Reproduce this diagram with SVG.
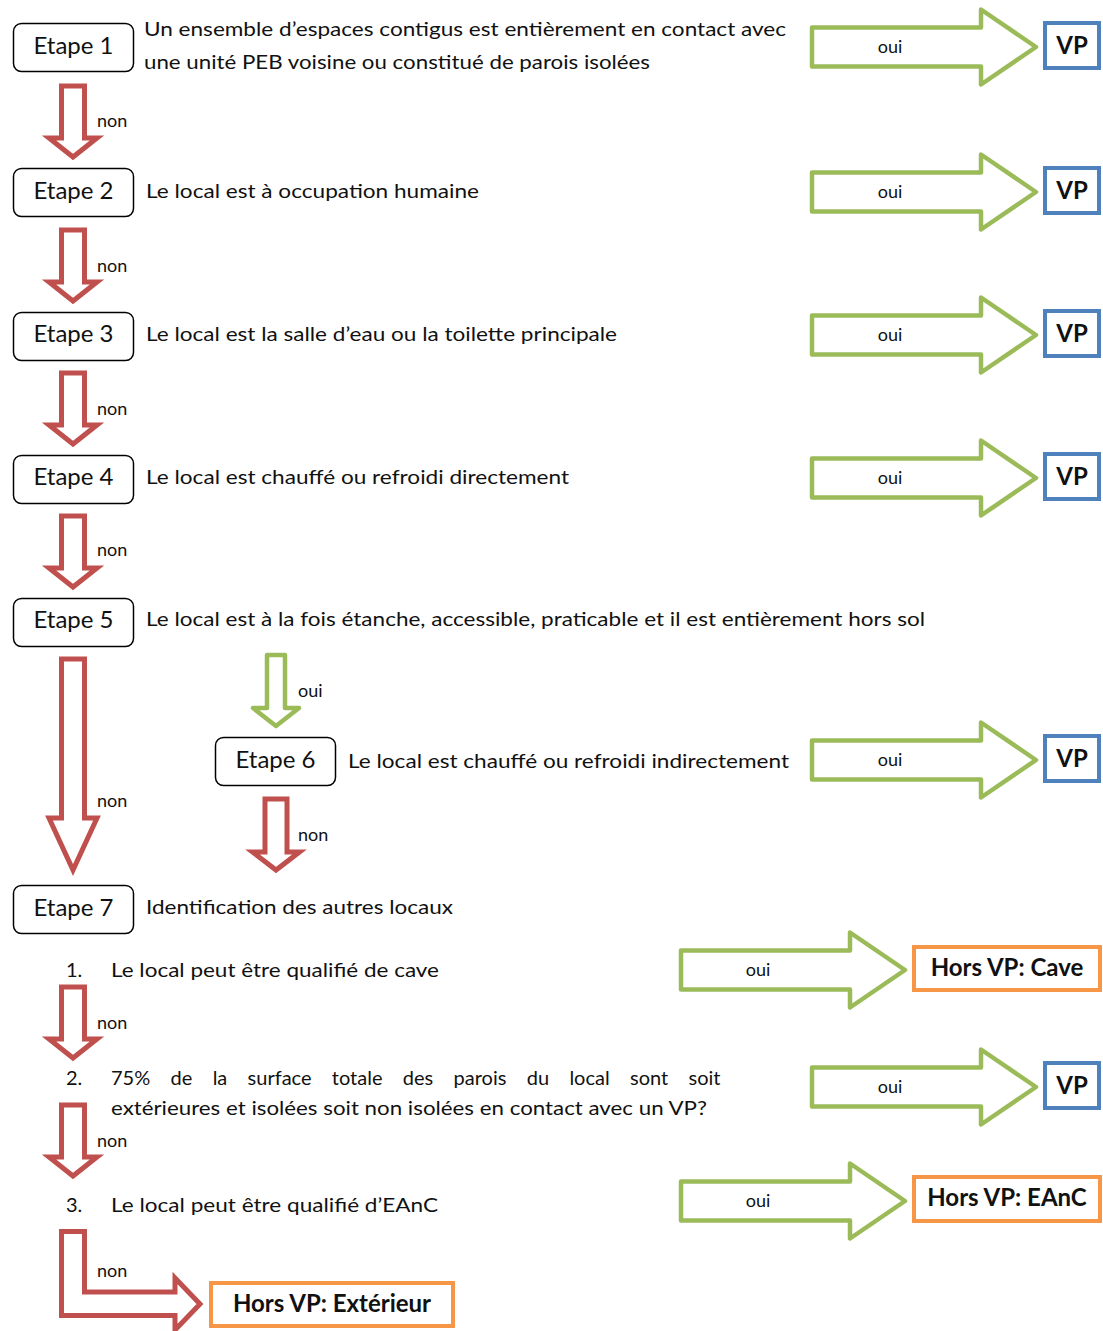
<svg xmlns="http://www.w3.org/2000/svg" xmlns:xlink="http://www.w3.org/1999/xlink" width="1103" height="1331" viewBox="0 0 1103 1331">
<style>
text{font-family:Lato,"Liberation Sans",sans-serif;fill:#111}
.step{fill:#fff;stroke:#000;stroke-width:1.5}
.stepT{font-size:24px;text-anchor:middle}
.q{font-size:20px}
.lab{font-size:18px}
.ctr{text-anchor:middle}
.vp{fill:#fff;stroke:#4F81BD;stroke-width:4}
.hors{fill:#fff;stroke:#F79646;stroke-width:4}
.res{font-size:24px;font-weight:bold;text-anchor:middle}
.red{fill:#fff;stroke:#C0504D;stroke-width:5;stroke-linejoin:miter}
.green{fill:#fff;stroke:#9BBB59;stroke-width:4.5;stroke-linejoin:round}
</style>
<defs>
<polygon id="gright" points="0,-19.5 169,-19.5 169,-37.5 224,0 169,37.5 169,19.5 0,19.5"/>
<polygon id="rdown" points="-11.5,0 11.5,0 11.5,52 24,52 0,71 -24,52 -11.5,52"/>
</defs>
<rect width="1103" height="1331" fill="#fff"/>

<g id="connectors">
<use xlink:href="#rdown" class="red" x="73" y="86"/>
<use xlink:href="#rdown" class="red" x="73" y="230"/>
<use xlink:href="#rdown" class="red" x="73" y="373"/>
<use xlink:href="#rdown" class="red" x="73" y="516"/>
<use xlink:href="#rdown" class="red" x="73" y="987"/>
<use xlink:href="#rdown" class="red" x="73" y="1105"/>
<polygon class="red" points="61.5,659 84.5,659 84.5,818 97,818 73,870 49,818 61.5,818"/>
<polygon class="green" points="267,655 285,655 285,708 299,708 276,726 253,708 267,708"/>
<polygon class="red" points="265,799 287,799 287,852 299.5,852 276,870 252.5,852 265,852"/>
<polygon class="red" points="61.5,1231.5 84.5,1231.5 84.5,1292 175,1292 175,1278 200,1304 175,1330 175,1315.5 61.5,1315.5"/>
<use xlink:href="#gright" class="green" x="812" y="47"/>
<use xlink:href="#gright" class="green" x="812" y="192"/>
<use xlink:href="#gright" class="green" x="812" y="335"/>
<use xlink:href="#gright" class="green" x="812" y="478"/>
<use xlink:href="#gright" class="green" x="812" y="760"/>
<use xlink:href="#gright" class="green" x="812" y="1087"/>
<use xlink:href="#gright" class="green" x="681" y="970"/>
<use xlink:href="#gright" class="green" x="681" y="1201"/>
<text class="lab" x="97" y="127">non</text>
<text class="lab" x="97" y="272">non</text>
<text class="lab" x="97" y="415">non</text>
<text class="lab" x="97" y="556">non</text>
<text class="lab" x="97" y="807">non</text>
<text class="lab" x="298" y="697">oui</text>
<text class="lab" x="298" y="841">non</text>
<text class="lab" x="97" y="1029">non</text>
<text class="lab" x="97" y="1147">non</text>
<text class="lab" x="97" y="1277">non</text>
<text class="lab ctr" x="890" y="53">oui</text>
<text class="lab ctr" x="890" y="198">oui</text>
<text class="lab ctr" x="890" y="341">oui</text>
<text class="lab ctr" x="890" y="484">oui</text>
<text class="lab ctr" x="890" y="766">oui</text>
<text class="lab ctr" x="890" y="1093">oui</text>
<text class="lab ctr" x="758" y="976">oui</text>
<text class="lab ctr" x="758" y="1207">oui</text>
</g>

<g id="etape1">
<rect class="step" x="13.5" y="23.5" width="120" height="48" rx="8"/>
<text class="stepT" x="73.5" y="54">Etape 1</text>
<text class="q" x="144" y="36" textLength="642" lengthAdjust="spacingAndGlyphs">Un ensemble d’espaces contigus est entièrement en contact avec</text>
<text class="q" x="144" y="69" textLength="506" lengthAdjust="spacingAndGlyphs">une unité PEB voisine ou constitué de parois isolées</text>
</g>
<g id="etape2">
<rect class="step" x="13.5" y="168.5" width="120" height="48" rx="8"/>
<text class="stepT" x="73.5" y="199">Etape 2</text>
<text class="q" x="146" y="198" textLength="333" lengthAdjust="spacingAndGlyphs">Le local est à occupation humaine</text>
</g>
<g id="etape3">
<rect class="step" x="13.5" y="312.5" width="120" height="48" rx="8"/>
<text class="stepT" x="73.5" y="342">Etape 3</text>
<text class="q" x="146" y="341" textLength="471" lengthAdjust="spacingAndGlyphs">Le local est la salle d’eau ou la toilette principale</text>
</g>
<g id="etape4">
<rect class="step" x="13.5" y="455.5" width="120" height="48" rx="8"/>
<text class="stepT" x="73.5" y="485">Etape 4</text>
<text class="q" x="146" y="484" textLength="423" lengthAdjust="spacingAndGlyphs">Le local est chauffé ou refroidi directement</text>
</g>
<g id="etape5">
<rect class="step" x="13.5" y="598.5" width="120" height="48" rx="8"/>
<text class="stepT" x="73.5" y="628">Etape 5</text>
<text class="q" x="146" y="626" textLength="779" lengthAdjust="spacingAndGlyphs">Le local est à la fois étanche, accessible, praticable et il est entièrement hors sol</text>
</g>
<g id="etape6">
<rect class="step" x="215.5" y="737.5" width="120" height="48" rx="8"/>
<text class="stepT" x="275.5" y="768">Etape 6</text>
<text class="q" x="348" y="768" textLength="441" lengthAdjust="spacingAndGlyphs">Le local est chauffé ou refroidi indirectement</text>
</g>
<g id="etape7">
<rect class="step" x="13.5" y="885.5" width="120" height="48" rx="8"/>
<text class="stepT" x="73.5" y="916">Etape 7</text>
<text class="q" x="146" y="914" textLength="307" lengthAdjust="spacingAndGlyphs">Identification des autres locaux</text>
</g>
<g id="item1">
<text class="q" x="66" y="977">1.</text>
<text class="q" x="111" y="977" textLength="328" lengthAdjust="spacingAndGlyphs">Le local peut être qualifié de cave</text>
</g>
<g id="item2">
<text class="q" x="66" y="1085">2.</text>
<text class="q" x="111" y="1085" word-spacing="15.2">75% de la surface totale des parois du local sont soit</text>
<text class="q" x="111" y="1115" textLength="596" lengthAdjust="spacingAndGlyphs">extérieures et isolées soit non isolées en contact avec un VP?</text>
</g>
<g id="item3">
<text class="q" x="66" y="1212">3.</text>
<text class="q" x="111" y="1212" textLength="327" lengthAdjust="spacingAndGlyphs">Le local peut être qualifié d’EAnC</text>
</g>

<g id="vp1"><rect class="vp" x="1045" y="23" width="54" height="45"/><text class="res" x="1072" y="54">VP</text></g>
<g id="vp2"><rect class="vp" x="1045" y="168" width="54" height="45"/><text class="res" x="1072" y="199">VP</text></g>
<g id="vp3"><rect class="vp" x="1045" y="311" width="54" height="45"/><text class="res" x="1072" y="342">VP</text></g>
<g id="vp4"><rect class="vp" x="1045" y="454" width="54" height="45"/><text class="res" x="1072" y="485">VP</text></g>
<g id="vp6"><rect class="vp" x="1045" y="736" width="54" height="45"/><text class="res" x="1072" y="767">VP</text></g>
<g id="vp7b"><rect class="vp" x="1045" y="1063" width="54" height="45"/><text class="res" x="1072" y="1094">VP</text></g>
<g id="horsCave"><rect class="hors" x="914" y="947" width="186" height="43"/><text class="res" x="1007" y="976">Hors VP: Cave</text></g>
<g id="horsEAnC"><rect class="hors" x="914" y="1177" width="186" height="44"/><text class="res" x="1007" y="1206">Hors VP: EAnC</text></g>
<g id="horsExt"><rect class="hors" x="211" y="1283" width="242" height="43"/><text class="res" x="332" y="1312">Hors VP: Extérieur</text></g>
</svg>
